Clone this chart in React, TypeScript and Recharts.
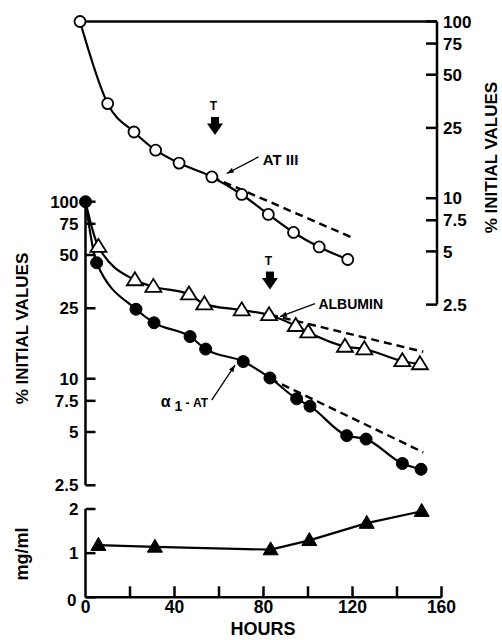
import React from 'react';
import { LineChart, Line, XAxis, YAxis, ReferenceDot, ReferenceLine } from 'recharts';

const FONT = '"Liberation Sans", Arial, Helvetica, sans-serif';

// ---- data (hours, values) ----
// AT III, % initial values (top panel)
const atHours = [0, 12.4, 24.2, 33.9, 44.4, 59.1, 72.5, 84.4, 95.7, 107.2, 120.0];
const atValues = [100, 34.3, 23.7, 18.7, 15.8, 13.2, 10.5, 8.1, 6.4, 5.3, 4.5];
const atDashHours = [59.1, 121.8];
const atDashValues = [13.2, 6.0];

// alpha1-AT, % initial values (middle panel)
const a1Hours = [0, 5.0, 22.7, 30.8, 47.0, 54.0, 70.9, 82.9, 94.9, 100.9, 117.4, 126.1, 142.4, 150.8];
const a1Values = [100, 45.2, 24.7, 20.7, 17.3, 14.7, 12.5, 10.1, 7.7, 7.0, 4.77, 4.56, 3.32, 3.08];
const a1DashHours = [83, 151.8];
const a1DashValues = [10.0, 3.84];

// Albumin, % initial values (middle panel)
const albHours = [0, 5.8, 22.2, 30.5, 46.5, 53.4, 70.2, 82.5, 94.5, 100.1, 116.6, 125.3, 142.4, 150.3];
const albValues = [100, 55.7, 36.1, 33.1, 30.0, 26.4, 24.4, 22.9, 19.9, 18.3, 15.2, 14.7, 12.6, 12.1];
const albDashHours = [83, 151.8];
const albDashValues = [23.0, 14.2];

// mg/ml (bottom panel)
const mgHours = [5.8, 31.2, 83.2, 100.6, 126.4, 151.1];
const mgValues = [1.18, 1.14, 1.08, 1.29, 1.68, 1.95];

// ticks
const logTicks = [2.5, 5, 7.5, 10, 25, 50, 75, 100];
const hourTicks = [0, 20, 40, 60, 80, 100, 120, 140, 160];
const hourLabels = [0, 40, 80, 120, 160];
const mgTicks = [0, 1, 2];

// annotation anchors (data coordinates)
const tTopAt = { h: 60.5, v: 22.8 };
const tMidAt = { h: 82.9, v: 31.9 };
const atLabelAt = { h: 65.8, v: 13.8 };
const albLabelAt = { h: 87.4, v: 22.4 };
const a1LabelAt = { h: 67.2, v: 11.95 };

const zip = (hs: number[], vs: number[]) => hs.map((h, i) => ({ h, v: vs[i] }));
const atData = zip(atHours, atValues);
const atDash = zip(atDashHours, atDashValues);
const a1Data = zip(a1Hours, a1Values);
const a1Dash = zip(a1DashHours, a1DashValues);
const albData = zip(albHours, albValues);
const albDash = zip(albDashHours, albDashValues);
const mgData = zip(mgHours, mgValues);

const AX = 2.5;
const LW = 2.2;

const LeftTick = (props: any) => {
  const { x, y, payload } = props;
  const axisX = x + 7;
  const v = payload.value;
  return (
    <g>
      <line x1={axisX} y1={y} x2={axisX + 10} y2={y} stroke="#000" strokeWidth={AX} />
      <text x={x} y={y + (v === 0 ? 3 : 0)} dx={v === 0 ? -2 : 0} dy="0.36em" textAnchor="end"
        fontFamily={FONT} fontWeight="bold" fontSize={17} fill="#000">{v}</text>
    </g>
  );
};

const RightTick = (props: any) => {
  const { x, y, payload } = props;
  const axisX = x - 6;
  return (
    <g>
      <line x1={axisX} y1={y} x2={axisX - 11} y2={y} stroke="#000" strokeWidth={AX} />
      <text x={x} y={y} dy="0.36em" textAnchor="start"
        fontFamily={FONT} fontWeight="bold" fontSize={17} fill="#000">{payload.value}</text>
    </g>
  );
};

const BottomTick = (props: any) => {
  const { x, y, payload } = props;
  const v = payload.value;
  return (
    <g>
      {v !== 0 && <line x1={x} y1={y} x2={x} y2={y - 11} stroke="#000" strokeWidth={AX} />}
      {hourLabels.includes(v) && (
        <text x={x} y={y + 16} textAnchor="middle" fontFamily={FONT} fontWeight="bold" fontSize={17.5} fill="#000">{v}</text>
      )}
    </g>
  );
};

const openCircle = { r: 5.5, fill: '#fff', stroke: '#000', strokeWidth: 1.8 };
const filledCircle = { r: 6, fill: '#000', stroke: '#000', strokeWidth: 1 };

const triPath = (cx: number, cy: number, w: number, h: number) =>
  `M${cx},${cy - h * 0.6} L${cx + w / 2},${cy + h * 0.4} L${cx - w / 2},${cy + h * 0.4} Z`;

const OpenTriangle = (props: any) => {
  const { cx, cy, index } = props;
  if (index === 0 || cx == null) return <g key={`ot${index}`} />;
  return <path key={`ot${index}`} d={triPath(cx, cy, 16, 13)} fill="#fff" stroke="#000" strokeWidth={1.8} />;
};

const FilledTriangle = (props: any) => {
  const { cx, cy, index } = props;
  return <path key={`ft${index}`} d={triPath(cx, cy, 15, 13)} fill="#000" stroke="#000" strokeWidth={1} />;
};

const TArrow = (props: any) => {
  const { cx, cy } = props;
  return (
    <g>
      <text x={cx - 1.5} y={cy - 25} textAnchor="middle" fontFamily={FONT} fontWeight="bold" fontSize={12} fill="#000">T</text>
      <rect x={cx - 4} y={cy - 18} width={8} height={7} fill="#000" />
      <path d={`M${cx - 8},${cy - 11.5} L${cx + 8},${cy - 11.5} L${cx},${cy} Z`} fill="#000" />
    </g>
  );
};

const arrowHead = (tx: number, ty: number, fx: number, fy: number) => {
  const dx = fx - tx, dy = fy - ty;
  const len = Math.hypot(dx, dy);
  const ux = dx / len, uy = dy / len;
  const L = 7, W = 2.6;
  const bx = tx + ux * L, by = ty + uy * L;
  return `M${tx},${ty} L${bx - uy * W},${by + ux * W} L${bx + uy * W},${by - ux * W} Z`;
};

const makeLabel = (text: React.ReactNode, tail: [number, number], textPos: [number, number], anchor: string, size: number) =>
  (props: any) => {
    const { cx, cy } = props;
    const fx = cx + tail[0], fy = cy + tail[1];
    return (
      <g>
        <line x1={fx} y1={fy} x2={cx} y2={cy} stroke="#000" strokeWidth={1.3} />
        <path d={arrowHead(cx, cy, fx, fy)} fill="#000" />
        <text x={cx + textPos[0]} y={cy + textPos[1]} textAnchor={anchor as any} fontFamily={FONT}
          fontWeight="bold" fontSize={size} fill="#000">{text}</text>
      </g>
    );
  };

const AtLabel = makeLabel('AT III', [31.6, -16.6], [36, -8], 'start', 15);
const AlbLabel = makeLabel('ALBUMIN', [35, -13], [38.5, -7.7], 'start', 14);
const A1Label = makeLabel(
  <>
    <tspan fontSize={16}>α</tspan>
    <tspan dy={4} fontSize={14}> 1</tspan>
    <tspan dy={-4} fontSize={12}>{' - AT'}</tspan>
  </>,
  [-23.3, 35], [-27, 41.5], 'end', 12);

const wrap: React.CSSProperties = { position: 'absolute', left: 0, top: 0 };

export default function App() {
  return (
    <div style={{ position: 'absolute', left: 0, top: 0, width: 502, height: 640, background: '#fff', overflow: 'hidden' }}>
      {/* Top panel: AT III */}
      <div style={wrap}>
        <LineChart width={502} height={640} margin={{ top: 21.5, right: 0, bottom: 335.4, left: 80 }}>
          <XAxis type="number" dataKey="h" domain={[0, 160]} hide />
          <YAxis orientation="right" type="number" scale="log" domain={[2.5, 100]} ticks={logTicks} interval={0}
            width={65} tickSize={0} tickMargin={6} tickLine={false}
            axisLine={{ stroke: '#000', strokeWidth: AX }} tick={<RightTick />} />
          <ReferenceLine y={100} stroke="#000" strokeWidth={AX} />
          <Line data={atDash} dataKey="v" type="linear" stroke="#000" strokeWidth={2.4} strokeDasharray="8 5"
            dot={false} isAnimationActive={false} />
          <Line data={atData} dataKey="v" type="monotone" stroke="#000" strokeWidth={LW}
            dot={openCircle} isAnimationActive={false} />
          <ReferenceDot x={tTopAt.h} y={tTopAt.v} r={0} shape={TArrow} ifOverflow="visible" />
          <ReferenceDot x={atLabelAt.h} y={atLabelAt.v} r={0} shape={AtLabel} ifOverflow="visible" />
        </LineChart>
      </div>

      {/* Middle panel: albumin & alpha1-AT */}
      <div style={wrap}>
        <LineChart width={502} height={640} margin={{ top: 201.7, right: 60.5, bottom: 154.7, left: 0 }}>
          <XAxis type="number" dataKey="h" domain={[0, 160]} hide />
          <YAxis orientation="left" type="number" scale="log" domain={[2.5, 100]} ticks={logTicks} interval={0}
            width={85.5} tickSize={0} tickMargin={7} tickLine={false}
            axisLine={{ stroke: '#000', strokeWidth: AX }} tick={<LeftTick />} />
          <Line data={albDash} dataKey="v" type="linear" stroke="#000" strokeWidth={2.4} strokeDasharray="8 5"
            dot={false} isAnimationActive={false} />
          <Line data={a1Dash} dataKey="v" type="linear" stroke="#000" strokeWidth={2.4} strokeDasharray="8 5"
            dot={false} isAnimationActive={false} />
          <Line data={albData} dataKey="v" type="monotone" stroke="#000" strokeWidth={LW}
            dot={OpenTriangle} isAnimationActive={false} />
          <Line data={a1Data} dataKey="v" type="monotone" stroke="#000" strokeWidth={LW}
            dot={filledCircle} isAnimationActive={false} />
          <ReferenceDot x={tMidAt.h} y={tMidAt.v} r={0} shape={TArrow} ifOverflow="visible" />
          <ReferenceDot x={albLabelAt.h} y={albLabelAt.v} r={0} shape={AlbLabel} ifOverflow="visible" />
          <ReferenceDot x={a1LabelAt.h} y={a1LabelAt.v} r={0} shape={A1Label} ifOverflow="visible" />
        </LineChart>
      </div>

      {/* Bottom panel: mg/ml */}
      <div style={wrap}>
        <LineChart width={502} height={640} margin={{ top: 509, right: 60.5, bottom: 12.7, left: 0 }}>
          <XAxis type="number" dataKey="h" domain={[0, 160]} ticks={hourTicks} interval={0} height={30}
            tickSize={0} tickMargin={0} tickLine={false}
            axisLine={{ stroke: '#000', strokeWidth: AX }} tick={<BottomTick />} />
          <YAxis type="number" domain={[0, 2]} ticks={mgTicks} interval={0} width={85.5}
            tickSize={0} tickMargin={7} tickLine={false}
            axisLine={{ stroke: '#000', strokeWidth: AX }} tick={<LeftTick />} />
          <Line data={mgData} dataKey="v" type="linear" stroke="#000" strokeWidth={LW}
            dot={FilledTriangle} isAnimationActive={false} />
        </LineChart>
      </div>

      {/* Axis titles */}
      <svg width={502} height={640} style={{ position: 'absolute', left: 0, top: 0, pointerEvents: 'none' }}>
        <g fontFamily={FONT} fontWeight="bold" fill="#000">
          <text x={22} y={328.5} fontSize={17} textAnchor="middle" dominantBaseline="central"
            transform="rotate(-90 22 328.5)">% INITIAL VALUES</text>
          <text x={491.5} y={157.5} fontSize={17} textAnchor="middle" dominantBaseline="central"
            transform="rotate(-90 491.5 157.5)">% INITIAL VALUES</text>
          <text x={21.5} y={554} fontSize={18} textAnchor="middle" dominantBaseline="central"
            transform="rotate(-90 21.5 554)">mg/ml</text>
          <text x={263} y={635} fontSize={18} textAnchor="middle">HOURS</text>
        </g>
      </svg>
    </div>
  );
}
